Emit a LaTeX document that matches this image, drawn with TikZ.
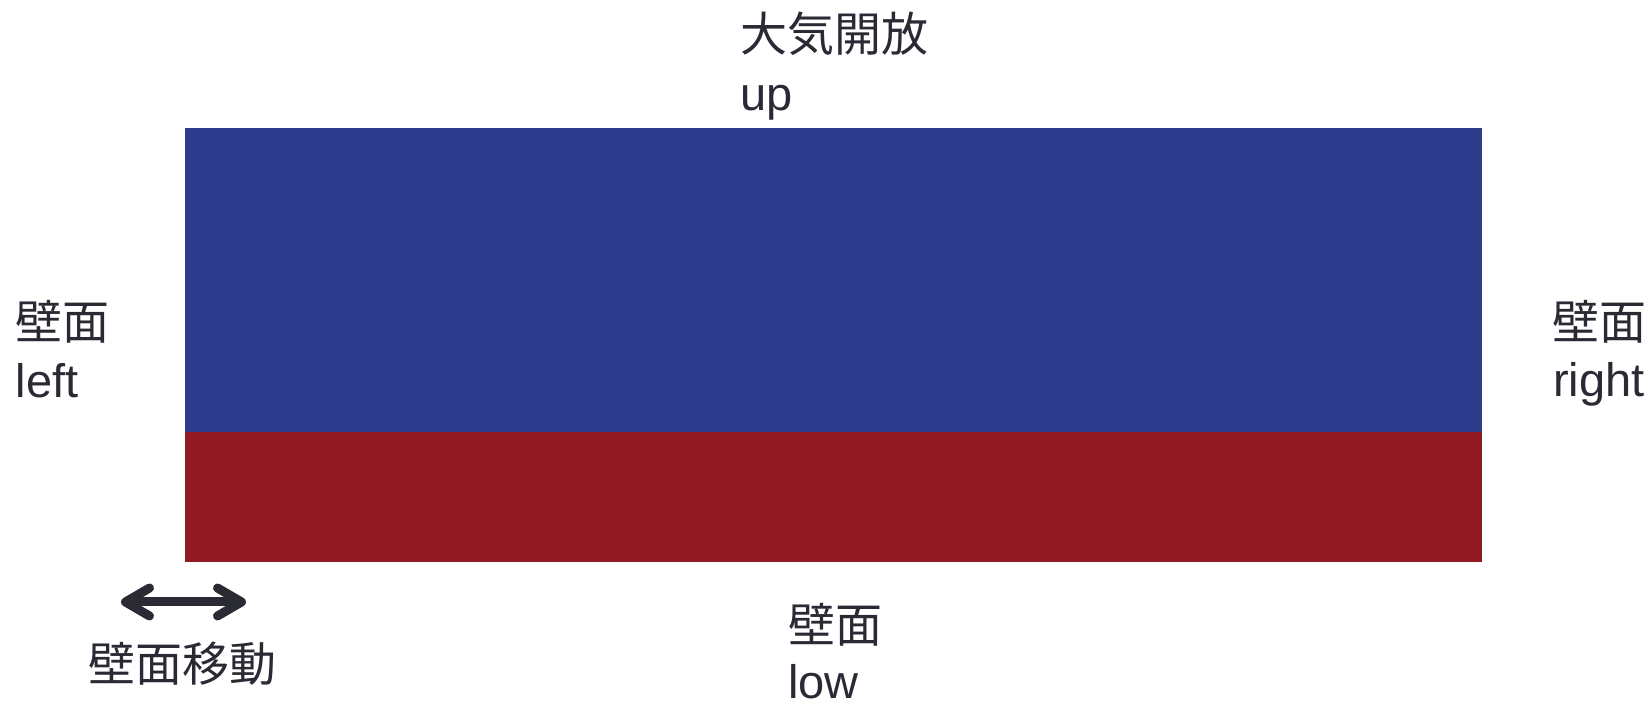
\documentclass[tikz,border=0pt]{standalone}
\usepackage{fontspec}
\setmainfont{Liberation Sans}
\newfontfamily\cjk{Noto Sans CJK JP}
\usetikzlibrary{arrows.meta}
\definecolor{fillblue}{RGB}{46,58,140}
\definecolor{fillred}{RGB}{145,26,34}
\definecolor{ink}{RGB}{42,42,52}
\tikzset{
  lbl/.style={anchor=base west, inner sep=0pt, outer sep=0pt, text=ink, font=\fontsize{23.5pt}{28pt}\selectfont},
  jlbl/.style={lbl, font=\fontsize{23.5pt}{28pt}\selectfont\cjk},
  movearrow/.style={draw=ink, line width=4.5pt, line cap=round,
    {Straight Barb[round, length=12pt, width=14pt]}-{Straight Barb[round, length=12pt, width=14pt]}}
}
\begin{document}
\begin{tikzpicture}[x=0.5pt,y=-0.5pt]
\useasboundingbox (0,0) rectangle (1650,704);
% regions
\fill[fillblue] (185,128) rectangle (1482,432);
\fill[fillred] (185,432) rectangle (1482,562);
% labels
\node[jlbl] (upj) at (740,52) {大気開放};
\node[lbl] (upe) at (740,111) {up};
\node[jlbl] (leftj) at (16,340) {壁面};
\node[lbl] (lefte) at (16,398) {left};
\node[jlbl] (rightj) at (1552,340) {壁面};
\node[lbl] (righte) at (1553,397) {right};
\node[jlbl] (lowj) at (788,643) {壁面};
\node[lbl] (lowe) at (788,699) {low};
\node[jlbl] (movej) at (88,682) {壁面移動};
% wall movement arrow
\coordinate (aL) at (121,602);
\coordinate (aR) at (246,602);
\draw[movearrow] (aL) -- (aR);
\end{tikzpicture}
\end{document}
